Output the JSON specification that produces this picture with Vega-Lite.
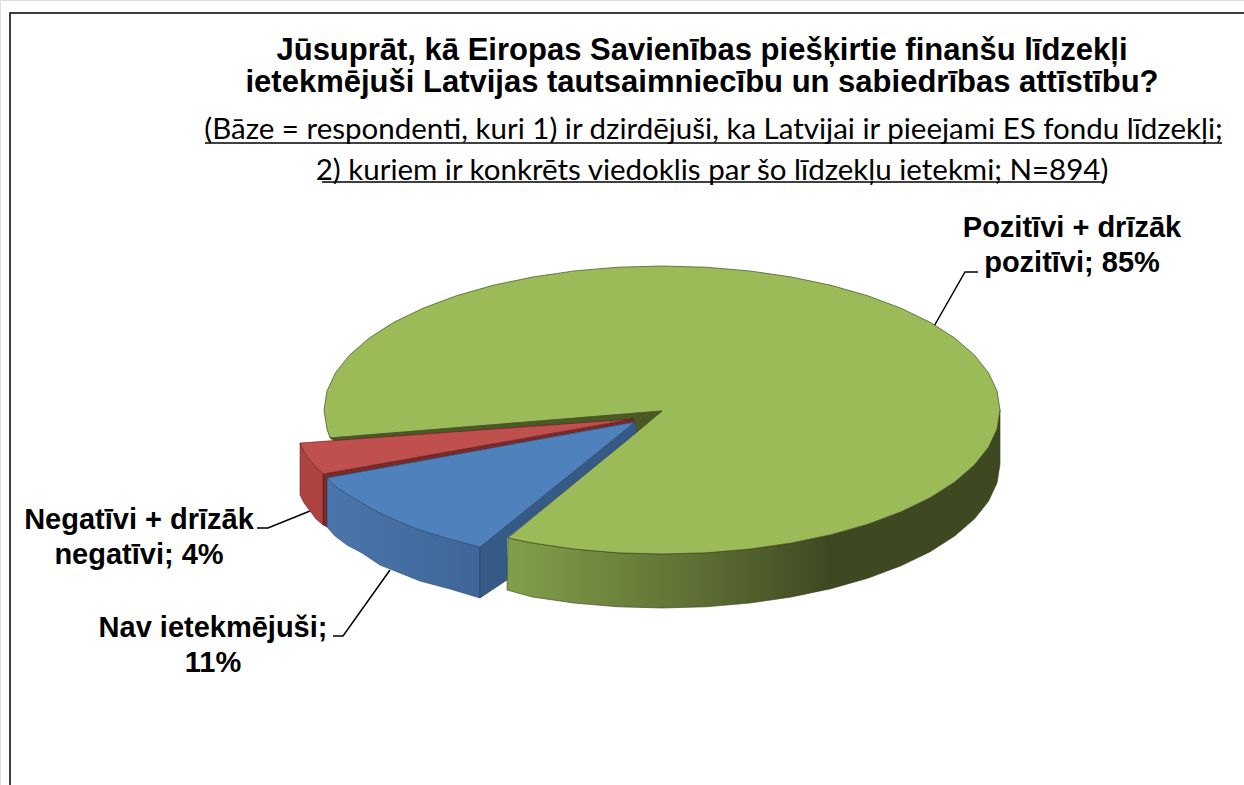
{"$schema":"https://vega.github.io/schema/vega-lite/v6.json","width":1244,"height":785,"autosize":{"type":"none"},"padding":0,"background":"white","title":{"text":["Jūsuprāt, kā Eiropas Savienības piešķirtie finanšu līdzekļi","ietekmējuši Latvijas tautsaimniecību un sabiedrības attīstību?"],"anchor":"middle","frame":"group","dx":80,"offset":-99,"font":"Liberation Sans","fontSize":31,"fontWeight":"bold","lineHeight":32,"color":"#000000"},"datasets":{"outlines":[
{"part":"frame","i":1,"x":10,"y":785},{"part":"frame","i":2,"x":10,"y":13},{"part":"frame","i":3,"x":1244,"y":13},
{"part":"under1","i":1,"x":205,"y":143},{"part":"under1","i":2,"x":1222,"y":143},
{"part":"under2","i":1,"x":322,"y":182},{"part":"under2","i":2,"x":1105,"y":182},
{"part":"leadPos","i":1,"x":933,"y":328},{"part":"leadPos","i":2,"x":965,"y":272},{"part":"leadPos","i":3,"x":978,"y":272},
{"part":"leadNeg","i":1,"x":310,"y":511},{"part":"leadNeg","i":2,"x":268,"y":528},{"part":"leadNeg","i":3,"x":257,"y":528},
{"part":"leadNav","i":1,"x":390,"y":570},{"part":"leadNav","i":2,"x":343,"y":636},{"part":"leadNav","i":3,"x":333,"y":636},
{"part":"greenSide","i":1,"x":508,"y":538},{"part":"greenSide","i":2,"x":532.6,"y":543},{"part":"greenSide","i":3,"x":574.5,"y":549.1},{"part":"greenSide","i":4,"x":617.9,"y":552.8},{"part":"greenSide","i":5,"x":662,"y":554},{"part":"greenSide","i":6,"x":706.1,"y":552.8},{"part":"greenSide","i":7,"x":749.5,"y":549.1},{"part":"greenSide","i":8,"x":791.4,"y":543},{"part":"greenSide","i":9,"x":831,"y":534.7},{"part":"greenSide","i":10,"x":867.8,"y":524.2},{"part":"greenSide","i":11,"x":901,"y":511.8},{"part":"greenSide","i":12,"x":930.2,"y":497.7},{"part":"greenSide","i":13,"x":954.7,"y":482},{"part":"greenSide","i":14,"x":974.3,"y":465.1},{"part":"greenSide","i":15,"x":988.5,"y":447.3},{"part":"greenSide","i":16,"x":997.1,"y":428.8},{"part":"greenSide","i":17,"x":1000,"y":410},{"part":"greenSide","i":18,"x":1000,"y":464},{"part":"greenSide","i":19,"x":997.1,"y":482.8},{"part":"greenSide","i":20,"x":988.5,"y":501.3},{"part":"greenSide","i":21,"x":974.3,"y":519.1},{"part":"greenSide","i":22,"x":954.7,"y":536},{"part":"greenSide","i":23,"x":930.2,"y":551.7},{"part":"greenSide","i":24,"x":901,"y":565.8},{"part":"greenSide","i":25,"x":867.8,"y":578.2},{"part":"greenSide","i":26,"x":831,"y":588.7},{"part":"greenSide","i":27,"x":791.4,"y":597},{"part":"greenSide","i":28,"x":749.5,"y":603.1},{"part":"greenSide","i":29,"x":706.1,"y":606.8},{"part":"greenSide","i":30,"x":662,"y":608},{"part":"greenSide","i":31,"x":617.9,"y":606.8},{"part":"greenSide","i":32,"x":574.5,"y":603.1},{"part":"greenSide","i":33,"x":532.6,"y":597},{"part":"greenSide","i":34,"x":507,"y":590},{"part":"greenSide","i":35,"x":508,"y":538},
{"part":"greenTop","i":1,"x":330,"y":438},{"part":"greenTop","i":2,"x":326.9,"y":428.8},{"part":"greenTop","i":3,"x":324,"y":410},{"part":"greenTop","i":4,"x":326.9,"y":391.2},{"part":"greenTop","i":5,"x":335.5,"y":372.7},{"part":"greenTop","i":6,"x":349.7,"y":354.9},{"part":"greenTop","i":7,"x":369.3,"y":338},{"part":"greenTop","i":8,"x":393.8,"y":322.3},{"part":"greenTop","i":9,"x":423,"y":308.2},{"part":"greenTop","i":10,"x":456.2,"y":295.8},{"part":"greenTop","i":11,"x":493,"y":285.3},{"part":"greenTop","i":12,"x":532.6,"y":277},{"part":"greenTop","i":13,"x":574.5,"y":270.9},{"part":"greenTop","i":14,"x":617.9,"y":267.2},{"part":"greenTop","i":15,"x":662,"y":266},{"part":"greenTop","i":16,"x":706.1,"y":267.2},{"part":"greenTop","i":17,"x":749.5,"y":270.9},{"part":"greenTop","i":18,"x":791.4,"y":277},{"part":"greenTop","i":19,"x":831,"y":285.3},{"part":"greenTop","i":20,"x":867.8,"y":295.8},{"part":"greenTop","i":21,"x":901,"y":308.2},{"part":"greenTop","i":22,"x":930.2,"y":322.3},{"part":"greenTop","i":23,"x":954.7,"y":338},{"part":"greenTop","i":24,"x":974.3,"y":354.9},{"part":"greenTop","i":25,"x":988.5,"y":372.7},{"part":"greenTop","i":26,"x":997.1,"y":391.2},{"part":"greenTop","i":27,"x":1000,"y":410},{"part":"greenTop","i":28,"x":997.1,"y":428.8},{"part":"greenTop","i":29,"x":988.5,"y":447.3},{"part":"greenTop","i":30,"x":974.3,"y":465.1},{"part":"greenTop","i":31,"x":954.7,"y":482},{"part":"greenTop","i":32,"x":930.2,"y":497.7},{"part":"greenTop","i":33,"x":901,"y":511.8},{"part":"greenTop","i":34,"x":867.8,"y":524.2},{"part":"greenTop","i":35,"x":831,"y":534.7},{"part":"greenTop","i":36,"x":791.4,"y":543},{"part":"greenTop","i":37,"x":749.5,"y":549.1},{"part":"greenTop","i":38,"x":706.1,"y":552.8},{"part":"greenTop","i":39,"x":662,"y":554},{"part":"greenTop","i":40,"x":617.9,"y":552.8},{"part":"greenTop","i":41,"x":574.5,"y":549.1},{"part":"greenTop","i":42,"x":532.6,"y":543},{"part":"greenTop","i":43,"x":508,"y":538},{"part":"greenTop","i":44,"x":662,"y":411},{"part":"greenTop","i":45,"x":330,"y":438},
{"part":"greenWall","i":1,"x":662,"y":411},{"part":"greenWall","i":2,"x":330,"y":438},{"part":"greenWall","i":3,"x":334,"y":441},{"part":"greenWall","i":4,"x":628,"y":421},{"part":"greenWall","i":5,"x":637,"y":432},{"part":"greenWall","i":6,"x":662,"y":411},
{"part":"redWall","i":1,"x":323,"y":474},{"part":"redWall","i":2,"x":633,"y":419},{"part":"redWall","i":3,"x":635,"y":422},{"part":"redWall","i":4,"x":327,"y":478},{"part":"redWall","i":5,"x":327,"y":527},{"part":"redWall","i":6,"x":323,"y":525},{"part":"redWall","i":7,"x":323,"y":474},
{"part":"redSide","i":1,"x":300,"y":443},{"part":"redSide","i":2,"x":304,"y":452},{"part":"redSide","i":3,"x":310,"y":460},{"part":"redSide","i":4,"x":316,"y":467},{"part":"redSide","i":5,"x":323,"y":474},{"part":"redSide","i":6,"x":323,"y":525},{"part":"redSide","i":7,"x":316,"y":519},{"part":"redSide","i":8,"x":310,"y":511},{"part":"redSide","i":9,"x":304,"y":503},{"part":"redSide","i":10,"x":300,"y":495},{"part":"redSide","i":11,"x":300,"y":443},
{"part":"redTop","i":1,"x":300,"y":443},{"part":"redTop","i":2,"x":633,"y":419},{"part":"redTop","i":3,"x":323,"y":474},{"part":"redTop","i":4,"x":316,"y":467},{"part":"redTop","i":5,"x":310,"y":460},{"part":"redTop","i":6,"x":304,"y":452},{"part":"redTop","i":7,"x":300,"y":443},
{"part":"blueSide","i":1,"x":327,"y":478},{"part":"blueSide","i":2,"x":335,"y":486},{"part":"blueSide","i":3,"x":347,"y":494},{"part":"blueSide","i":4,"x":362,"y":503},{"part":"blueSide","i":5,"x":380,"y":513},{"part":"blueSide","i":6,"x":400,"y":522},{"part":"blueSide","i":7,"x":420,"y":530},{"part":"blueSide","i":8,"x":450,"y":539},{"part":"blueSide","i":9,"x":480,"y":547},{"part":"blueSide","i":10,"x":480,"y":598},{"part":"blueSide","i":11,"x":450,"y":589},{"part":"blueSide","i":12,"x":420,"y":581},{"part":"blueSide","i":13,"x":400,"y":573},{"part":"blueSide","i":14,"x":380,"y":565},{"part":"blueSide","i":15,"x":362,"y":553},{"part":"blueSide","i":16,"x":347,"y":545},{"part":"blueSide","i":17,"x":335,"y":536},{"part":"blueSide","i":18,"x":327,"y":527},{"part":"blueSide","i":19,"x":327,"y":478},
{"part":"blueWall","i":1,"x":480,"y":547},{"part":"blueWall","i":2,"x":635,"y":422},{"part":"blueWall","i":3,"x":637,"y":432},{"part":"blueWall","i":4,"x":507,"y":538},{"part":"blueWall","i":5,"x":507,"y":580},{"part":"blueWall","i":6,"x":480,"y":598},{"part":"blueWall","i":7,"x":480,"y":547},
{"part":"blueTop","i":1,"x":327,"y":478},{"part":"blueTop","i":2,"x":635,"y":422},{"part":"blueTop","i":3,"x":480,"y":547},{"part":"blueTop","i":4,"x":450,"y":539},{"part":"blueTop","i":5,"x":420,"y":530},{"part":"blueTop","i":6,"x":400,"y":522},{"part":"blueTop","i":7,"x":380,"y":513},{"part":"blueTop","i":8,"x":362,"y":503},{"part":"blueTop","i":9,"x":347,"y":494},{"part":"blueTop","i":10,"x":335,"y":486},{"part":"blueTop","i":11,"x":327,"y":478}
],"labels":[
{"category":"Pozitīvi + drīzāk pozitīvi","share":85,"label":"Pozitīvi + drīzāk\npozitīvi; 85%","x":1072,"y":228},
{"category":"Negatīvi + drīzāk negatīvi","share":4,"label":"Negatīvi + drīzāk\nnegatīvi; 4%","x":139,"y":520},
{"category":"Nav ietekmējuši","share":11,"label":"Nav ietekmējuši;\n11%","x":213,"y":628}
],"notes":[
{"label":"(Bāze = respondenti, kuri 1) ir dzirdējuši, ka Latvijai ir pieejami ES fondu līdzekļi;","x":713.5,"y":130},
{"label":"2) kuriem ir konkrēts viedoklis par šo līdzekļu ietekmi; N=894)","x":712,"y":171}
]},
"encoding":{"x":{"field":"x","type":"quantitative","scale":{"domain":[0,1244],"nice":false,"zero":false},"axis":null},"y":{"field":"y","type":"quantitative","scale":{"domain":[785,0],"nice":false,"zero":false},"axis":null}},
"layer":[
{"data":{"name":"outlines"},"transform":[{"filter":"indexof(['frame','under1','under2','leadPos','leadNeg','leadNav'],datum.part)>=0"}],"mark":{"type":"line","stroke":"#000000","strokeWidth":1.5,"clip":false},"encoding":{"detail":{"field":"part"},"order":{"field":"i","type":"quantitative"}}},
{"data":{"name":"outlines"},"transform":[{"filter":"datum.part=='greenSide'"}],"mark":{"type":"line","stroke":"#333a1a","strokeWidth":0.6,"fill":{"gradient":"linear","x1":0,"y1":0,"x2":1,"y2":0,"stops":[{"offset":0,"color":"#81a04a"},{"offset":0.4,"color":"#5c6d33"},{"offset":0.65,"color":"#3f4921"},{"offset":1,"color":"#3f4921"}]}},"encoding":{"order":{"field":"i","type":"quantitative"}}},
{"data":{"name":"outlines"},"transform":[{"filter":"datum.part=='greenTop'"}],"mark":{"type":"line","stroke":"#3f4921","strokeWidth":0.7,"fill":"#9bbb59"},"encoding":{"order":{"field":"i","type":"quantitative"}}},
{"data":{"name":"outlines"},"transform":[{"filter":"datum.part=='greenWall'"}],"mark":{"type":"line","stroke":"#3f4921","strokeWidth":0.5,"fill":"#4a5a25"},"encoding":{"order":{"field":"i","type":"quantitative"}}},
{"data":{"name":"outlines"},"transform":[{"filter":"datum.part=='redWall'"}],"mark":{"type":"line","stroke":"#5a1f1d","strokeWidth":0.5,"fill":"#7a2a28"},"encoding":{"order":{"field":"i","type":"quantitative"}}},
{"data":{"name":"outlines"},"transform":[{"filter":"datum.part=='redSide'"}],"mark":{"type":"line","stroke":"#5a1f1d","strokeWidth":0.5,"fill":"#ae4240"},"encoding":{"order":{"field":"i","type":"quantitative"}}},
{"data":{"name":"outlines"},"transform":[{"filter":"datum.part=='redTop'"}],"mark":{"type":"line","stroke":"#5a1f1d","strokeWidth":0.6,"fill":"#c0504d"},"encoding":{"order":{"field":"i","type":"quantitative"}}},
{"data":{"name":"outlines"},"transform":[{"filter":"datum.part=='blueSide'"}],"mark":{"type":"line","stroke":"#2a4468","strokeWidth":0.6,"fill":{"gradient":"linear","x1":0,"y1":0,"x2":1,"y2":0,"stops":[{"offset":0,"color":"#4a76ab"},{"offset":1,"color":"#3e6699"}]}},"encoding":{"order":{"field":"i","type":"quantitative"}}},
{"data":{"name":"outlines"},"transform":[{"filter":"datum.part=='blueWall'"}],"mark":{"type":"line","stroke":"#2a4468","strokeWidth":0.6,"fill":"#355a86"},"encoding":{"order":{"field":"i","type":"quantitative"}}},
{"data":{"name":"outlines"},"transform":[{"filter":"datum.part=='blueTop'"}],"mark":{"type":"line","stroke":"#2a4468","strokeWidth":0.6,"fill":"#4f81bd"},"encoding":{"order":{"field":"i","type":"quantitative"}}},
{"data":{"name":"labels"},"mark":{"type":"text","font":"Liberation Sans","fontWeight":"bold","fontSize":29,"lineBreak":"\n","lineHeight":35,"align":"center","baseline":"middle","color":"#000000"},"encoding":{"text":{"field":"label"}}},
{"data":{"name":"notes"},"mark":{"type":"text","font":"Lato","fontSize":29.5,"align":"center","baseline":"middle","color":"#000000"},"encoding":{"text":{"field":"label"}}}
]}
